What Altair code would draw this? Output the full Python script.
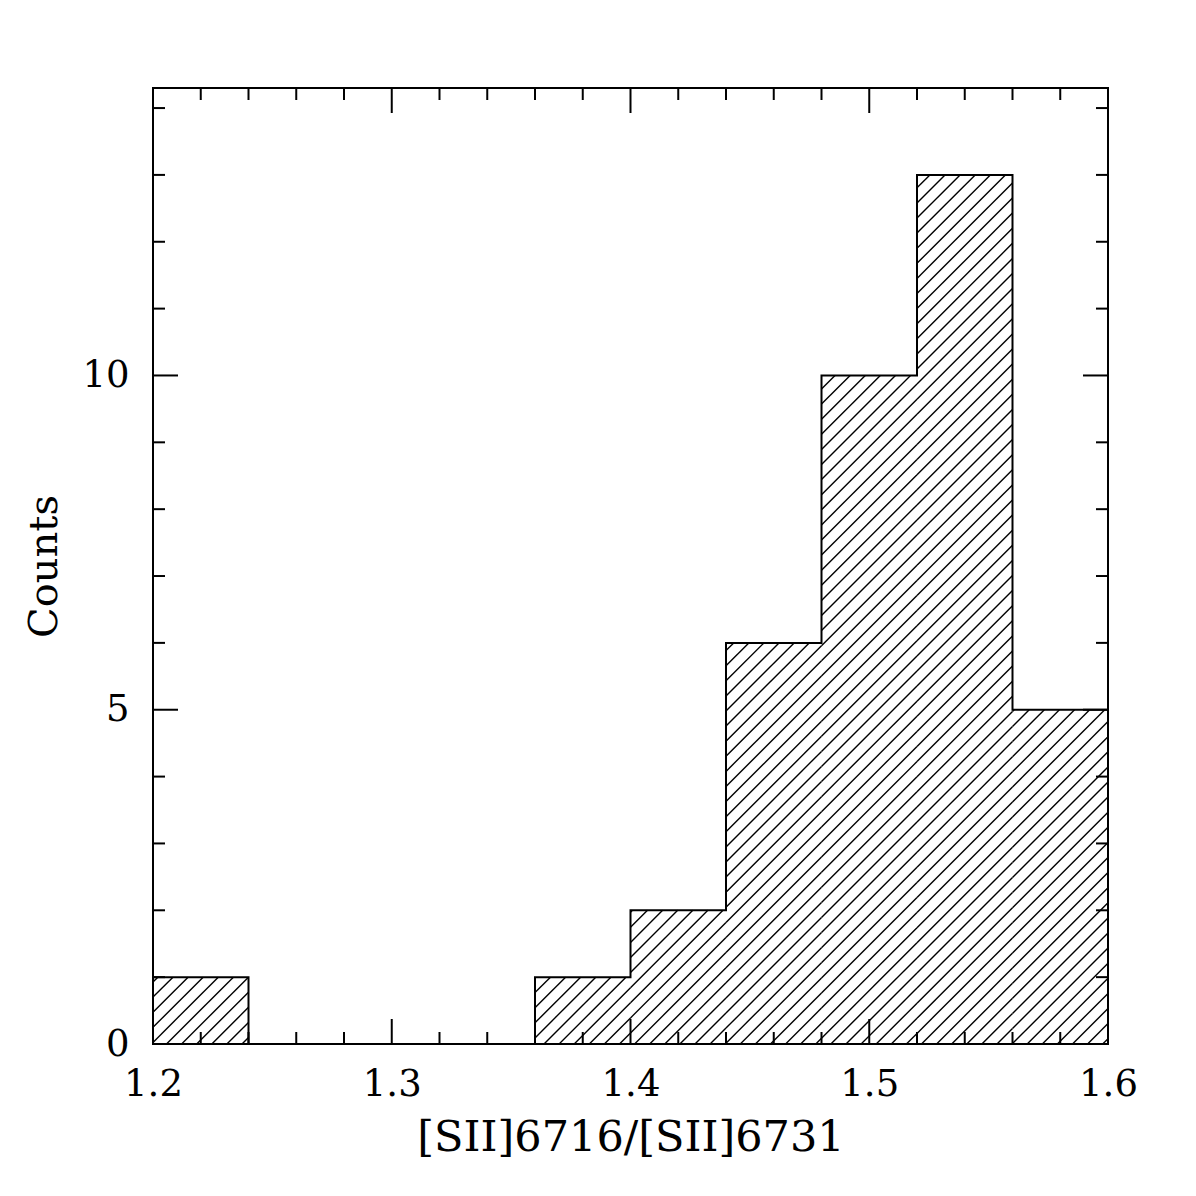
import math
import altair as alt
import pandas as pd

# ---- data ----
bin_edges = [1.20, 1.24, 1.28, 1.32, 1.36, 1.40, 1.44, 1.48, 1.52, 1.56, 1.60]
counts = [1, 0, 0, 0, 1, 2, 6, 10, 13, 5]
x_major = [1.2, 1.3, 1.4, 1.5, 1.6]
x_minor = [1.22, 1.24, 1.26, 1.28, 1.32, 1.34, 1.36, 1.38,
           1.42, 1.44, 1.46, 1.48, 1.52, 1.54, 1.56, 1.58]
y_major = [0, 5, 10]
y_minor = [1, 2, 3, 4, 6, 7, 8, 9, 11, 12, 13, 14]

XMIN, XMAX, YMAX = 1.2, 1.6, 14.3
W, H = 955, 956
FONT = "DejaVu Serif"

# ---- outline (step) ----
pts = [(1.2, 0.0)] + [(bin_edges[i], counts[i]) for i in range(len(counts))] + [(1.6, counts[-1]), (1.6, 0.0)]
outline = pd.DataFrame({"i": list(range(len(pts))), "x": [p[0] for p in pts], "y": [p[1] for p in pts]})

# ---- hatching derived from the bins (45 degree lines in screen space) ----
sx = W / (XMAX - XMIN)
sy = H / YMAX
spacing, phase = 15.1, 13.5
segs = []
for i, h in enumerate(counts):
    if h == 0:
        continue
    u0 = (bin_edges[i] - XMIN) * sx
    u1 = (bin_edges[i + 1] - XMIN) * sx
    vh = h * sy
    k0 = math.ceil((u0 - vh - phase) / spacing)
    k1 = math.floor((u1 - phase) / spacing)
    for k in range(k0, k1 + 1):
        c = phase + k * spacing
        vmin = max(0.0, u0 - c)
        vmax = min(vh, u1 - c)
        if vmax - vmin > 0.3:
            segs.append({"x": XMIN + (c + vmin) / sx, "y": vmin / sy,
                         "x2": XMIN + (c + vmax) / sx, "y2": vmax / sy})
hatch = pd.DataFrame(segs)

xs = alt.Scale(domain=[XMIN, XMAX], nice=False, zero=False)
ys = alt.Scale(domain=[0, YMAX], nice=False)

x_axis = alt.Axis(values=x_major, format=".1f", ticks=False, domain=False, grid=False,
                  labelFlush=False, labelOverlap=False,
                  labelPadding=22, labelFontSize=37, labelFont=FONT, labelColor="black",
                  title="[SII]6716/[SII]6731", titleFont=FONT, titleFontSize=43,
                  titleFontWeight="normal", titleColor="black",
                  titleBaseline="alphabetic", titleY=106, titleAnchor="middle")
y_axis = alt.Axis(values=y_major, format="d", ticks=False, domain=False, grid=False,
                  labelFlush=False, labelOverlap=False,
                  labelPadding=24, labelFontSize=37, labelFont=FONT, labelColor="black",
                  title="Counts", titleFont=FONT, titleFontSize=40,
                  titleFontWeight="normal", titleColor="black", titleAngle=270,
                  titleBaseline="alphabetic", titleX=-97, titleY=H / 2, titleAlign="center")

X = lambda f: alt.X(f, scale=xs, axis=x_axis)
Y = lambda f: alt.Y(f, scale=ys, axis=y_axis)

base_line = alt.Chart(outline).mark_line(
    interpolate="step-after", color="black", strokeWidth=2
).encode(x=X("x:Q"), y=Y("y:Q"), order=alt.Order("i:Q"))

hatch_layer = alt.Chart(hatch).mark_rule(color="black", strokeWidth=1.4).encode(
    x=X("x:Q"), x2="x2:Q", y=Y("y:Q"), y2="y2:Q",
)


def xticks(vals, length):
    d = pd.DataFrame({"x": vals})
    bottom = alt.Chart(d).mark_rule(color="black", strokeWidth=2).encode(
        x=X("x:Q"), y=alt.value(H), y2=alt.value(H - length))
    top = alt.Chart(d).mark_rule(color="black", strokeWidth=2).encode(
        x=X("x:Q"), y=alt.value(0), y2=alt.value(length))
    return [bottom, top]


def yticks(vals, length):
    d = pd.DataFrame({"y": vals})
    left = alt.Chart(d).mark_rule(color="black", strokeWidth=2).encode(
        y=Y("y:Q"), x=alt.value(0), x2=alt.value(length))
    right = alt.Chart(d).mark_rule(color="black", strokeWidth=2).encode(
        y=Y("y:Q"), x=alt.value(W), x2=alt.value(W - length))
    return [left, right]


layers = [hatch_layer, base_line] + xticks(x_major, 25) + xticks(x_minor, 12) + yticks(y_major, 25) + yticks(y_minor, 12)

chart = alt.layer(*layers).properties(
    width=W, height=H,
    autosize=alt.AutoSizeParams(type="none"),
    padding={"left": 145, "top": 80, "right": 80, "bottom": 144},
    background="white",
).configure_view(stroke="black", strokeWidth=2)

chart.save("out.html", embed_options={"renderer": "svg", "actions": False})
